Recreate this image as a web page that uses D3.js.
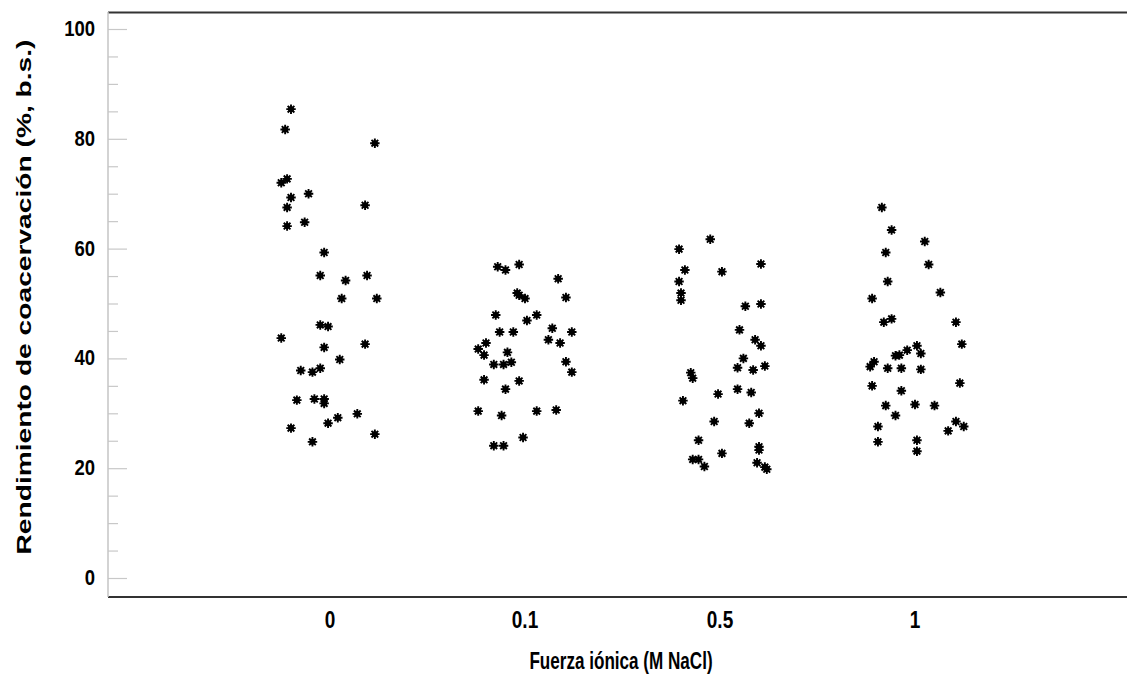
<!DOCTYPE html>
<html>
<head>
<meta charset="utf-8">
<script src="https://cdn.jsdelivr.net/npm/d3@7"></script>
<style>
  html, body { margin: 0; padding: 0; background: #fff; }
  svg { display: block; }
  text { font-family: "Liberation Sans", Arial, sans-serif; font-weight: bold; fill: #000; }
</style>
</head>
<body>
<svg id="chart" width="1127" height="679"></svg>
<script>
// ---- data ----
const categories = ["0", "0.1", "0.5", "1"];
const yTicks = [0, 20, 40, 60, 80, 100];
const xTitle = "Fuerza iónica (M NaCl)";
const yTitle = "Rendimiento de coacervación (%, b.s.)";

// yield values per ionic-strength level, with horizontal jitter (fraction of category step)
const values0 = [85.4,81.7,79.2,72.7,72.0,69.3,70.0,67.5,67.9,64.1,64.8,59.3,55.1,54.2,55.1,50.9,50.9,46.1,45.8,43.7,42.0,42.6,39.8,37.8,37.5,38.2,32.4,32.6,32.6,31.8,29.9,29.2,28.2,27.3,26.2,24.8];
const jitter0 = [-0.20,-0.23,0.23,-0.22,-0.25,-0.20,-0.11,-0.22,0.18,-0.22,-0.13,-0.03,-0.05,0.08,0.19,0.06,0.24,-0.05,-0.01,-0.25,-0.03,0.18,0.05,-0.15,-0.09,-0.05,-0.17,-0.08,-0.03,-0.03,0.14,0.04,-0.01,-0.20,0.23,-0.09];

const values01 = [56.7,56.1,57.1,54.5,51.9,51.5,50.9,51.1,47.9,46.9,47.9,45.5,44.8,44.8,44.8,43.4,42.8,42.8,41.7,40.6,41.1,38.9,38.9,39.3,39.4,37.5,36.1,35.9,34.4,30.4,29.6,30.4,30.6,25.6,24.1,24.1];
const jitter01 = [-0.14,-0.10,-0.03,0.17,-0.04,-0.03,0.00,0.21,-0.15,0.01,0.06,0.14,0.24,-0.13,-0.06,0.12,0.18,-0.20,-0.24,-0.21,-0.09,-0.16,-0.11,-0.07,0.21,0.24,-0.21,-0.03,-0.10,-0.24,-0.12,0.06,0.16,-0.01,-0.16,-0.11];

const values05 = [61.7,59.9,57.2,56.1,55.8,54.0,51.9,50.6,49.5,49.9,45.2,43.4,42.3,40.0,38.3,37.9,38.6,37.4,36.4,34.4,33.8,33.5,32.3,30.0,28.2,28.5,25.1,23.9,23.3,22.7,21.6,21.6,20.3,21.0,20.2,19.8];
const jitter05 = [-0.05,-0.21,0.21,-0.18,0.01,-0.21,-0.20,-0.20,0.13,0.21,0.10,0.18,0.21,0.12,0.09,0.17,0.23,-0.15,-0.14,0.09,0.16,-0.01,-0.19,0.20,0.15,-0.03,-0.11,0.20,0.20,0.01,-0.14,-0.11,-0.08,0.19,0.23,0.24];

const values1 = [67.5,63.4,61.3,59.3,57.1,54.0,52.0,50.9,46.6,47.2,46.6,42.6,42.3,40.9,41.5,40.6,40.5,39.4,38.5,38.2,38.2,38.0,35.0,35.5,34.1,31.4,31.6,31.4,29.6,27.6,28.5,27.6,26.8,24.8,25.1,23.1];
const jitter1 = [-0.17,-0.12,0.05,-0.15,0.07,-0.14,0.13,-0.22,-0.16,-0.12,0.21,0.24,0.01,0.03,-0.04,-0.08,-0.10,-0.21,-0.23,-0.14,-0.07,0.03,-0.22,0.23,-0.07,-0.15,0.00,0.10,-0.10,-0.19,0.21,0.25,0.17,-0.19,0.01,0.01];

const seriesValues = [values0, values01, values05, values1];
const seriesJitter = [jitter0, jitter01, jitter05, jitter1];

const points = [];
categories.forEach((c, i) => {
  seriesValues[i].forEach((v, j) => points.push({ cat: c, value: v, jitter: seriesJitter[i][j] }));
});

// ---- layout ----
const svg = d3.select("#chart");
const plotLeft = 108, plotRight = 1127, plotTop = 12, plotBottom = 597;

const x = d3.scalePoint().domain(categories).range([135, 1110]).padding(1);
const y = d3.scaleLinear().domain([0, 100]).range([578, 29]);

// frame lines
svg.append("line").attr("x1", plotLeft).attr("x2", plotRight).attr("y1", plotTop + 0.5).attr("y2", plotTop + 0.5)
  .attr("stroke", "#333").attr("stroke-width", 2);
svg.append("line").attr("x1", plotLeft).attr("x2", plotRight).attr("y1", plotBottom).attr("y2", plotBottom)
  .attr("stroke", "#333").attr("stroke-width", 2);

// y axis (ticks pointing inward, grey)
const gy = svg.append("g").attr("transform", `translate(${plotLeft},0)`)
  .call(d3.axisRight(y).tickValues(yTicks).tickSize(19).tickFormat(""));
gy.select(".domain").remove();
gy.selectAll(".tick line").attr("stroke", "#c8c8c8").attr("stroke-width", 1.2);

const minorTicks = d3.range(0, 101, 5).filter(v => v % 20 !== 0);
const gyMinor = svg.append("g").attr("transform", `translate(${plotLeft},0)`)
  .call(d3.axisRight(y).tickValues(minorTicks).tickSize(10).tickFormat(""));
gyMinor.select(".domain").remove();
gyMinor.selectAll(".tick line").attr("stroke", "#c8c8c8").attr("stroke-width", 1.2);

svg.append("line").attr("x1", plotLeft).attr("x2", plotLeft).attr("y1", plotTop).attr("y2", plotBottom)
  .attr("stroke", "#c4c4c4").attr("stroke-width", 1.5);

// y tick labels (slightly stretched vertically, as in the source image)
svg.append("g").selectAll("text").data(yTicks).join("text")
  .attr("transform", d => `translate(95,${y(d) + 7}) scale(1,1.2)`)
  .attr("text-anchor", "end").attr("font-size", 18.5).text(d => d);

// x tick labels
svg.append("g").selectAll("text").data(categories).join("text")
  .attr("transform", d => `translate(${x(d)},628) scale(1,1.25)`)
  .attr("text-anchor", "middle").attr("font-size", 19).text(d => d);

// titles
svg.append("text").attr("transform", "translate(621,669) scale(0.95,1.28)")
  .attr("text-anchor", "middle").attr("font-size", 18).text(xTitle);
svg.append("text").attr("transform", "translate(31,297) rotate(-90)")
  .attr("text-anchor", "middle").attr("font-size", 19.5)
  .attr("textLength", 515).attr("lengthAdjust", "spacingAndGlyphs").text(yTitle);

// asterisk marker
const asterisk = {
  draw(ctx, size) {
    const r = Math.sqrt(size) / 2;
    for (let k = 0; k < 4; k++) {
      const a = k * Math.PI / 4;
      ctx.moveTo(-r * Math.cos(a), -r * Math.sin(a));
      ctx.lineTo(r * Math.cos(a), r * Math.sin(a));
    }
  }
};
const step = x.step();
const g = svg.append("g");
const pts = g.selectAll("g.pt").data(points).join("g").attr("class", "pt")
  .attr("transform", d => `translate(${x(d.cat) + d.jitter * step},${y(d.value)})`);
pts.append("path").attr("d", d3.symbol(asterisk, 90)).attr("stroke", "#000").attr("stroke-width", 1.9).attr("fill", "none");
pts.append("circle").attr("r", 3).attr("fill", "#000");
</script>
</body>
</html>
